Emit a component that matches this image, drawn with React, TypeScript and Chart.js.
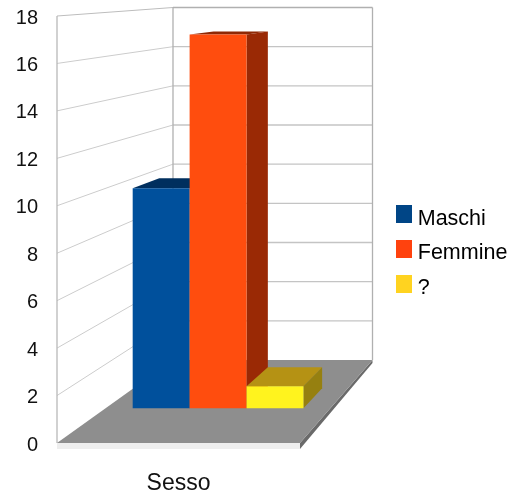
import React, { useEffect, useRef } from "react";
import { Chart, registerables } from "chart.js";

Chart.register(...registerables);

const categories = ["Sesso"];
const seriesNames = ["Maschi", "Femmine", "?"];
const maschi = [10];
const femmine = [17];
const ignoto = [1];
const legendColors = ["#004586", "#ff420e", "#ffd320"];
const frontColors = ["#00509c", "#ff4d0e", "#fff31e"];
const topColors = ["#002f5e", "#8f2805", "#b59214"];
const sideColors = ["#003a70", "#9a2905", "#968010"];

const Y_MAX = 18;
const FONT = "'Liberation Sans', Arial, sans-serif";
// Far wall of the box, in page pixels; the near plane is the chart area.
const BACK = { left: 173, right: 372.5, top: 7.5, bottom: 360 };
const BAR_NEAR = 0.42;
const BAR_FAR = 0.66;
const SWATCH = { x: 396, y: 205, w: 16, h: 18, step: 35 };

function lerp(a: number, b: number, t: number) {
  return a + (b - a) * t;
}

function projector(chart: any) {
  const { chartArea, scales } = chart;
  return (frac: number, value: number, depth: number): [number, number] => {
    const fx = chartArea.left + frac * (chartArea.right - chartArea.left);
    const fy = scales.y.getPixelForValue(value);
    const bx = lerp(BACK.left, BACK.right, frac);
    const by = BACK.bottom - (value / Y_MAX) * (BACK.bottom - BACK.top);
    return [lerp(fx, bx, depth), lerp(fy, by, depth)];
  };
}

function poly(ctx: CanvasRenderingContext2D, pts: [number, number][], fill: string) {
  ctx.beginPath();
  pts.forEach((p, i) => (i ? ctx.lineTo(p[0], p[1]) : ctx.moveTo(p[0], p[1])));
  ctx.closePath();
  ctx.fillStyle = fill;
  ctx.fill();
}

function line(ctx: CanvasRenderingContext2D, a: [number, number], b: [number, number], color: string, width: number) {
  ctx.beginPath();
  ctx.moveTo(a[0], a[1]);
  ctx.lineTo(b[0], b[1]);
  ctx.strokeStyle = color;
  ctx.lineWidth = width;
  ctx.stroke();
}

const box3d = {
  id: "box3d",
  afterLayout(chart: any) {
    const legend = chart.legend;
    legend.left = 386;
    legend.right = 531;
    legend.top = 195;
    legend.bottom = 496;
  },
  beforeDatasetsDraw(chart: any) {
    const ctx: CanvasRenderingContext2D = chart.ctx;
    const p = projector(chart);
    ctx.save();
    const ticks = chart.scales.y.ticks;
    // walls and gridlines
    ticks.forEach((t: any) => {
      if (t.value === 0) return;
      const edge = t.value === Y_MAX;
      line(ctx, p(0, t.value, 0), p(0, t.value, 1), edge ? "#bdbdbd" : "#cccccc", 1);
      line(ctx, p(0, t.value, 1), p(1, t.value, 1), edge ? "#b0b0b0" : "#c4c4c4", 1.3);
    });
    line(ctx, p(0, 0, 0), p(0, Y_MAX, 0), "#b8b8b8", 1.3);
    line(ctx, p(0, 0, 1), p(0, Y_MAX, 1), "#b0b0b0", 1.3);
    line(ctx, p(1, 0, 1), p(1, Y_MAX, 1), "#b0b0b0", 1.3);
    // floor slab
    const slab = 6;
    const a = p(0, 0, 0);
    const b = p(1, 0, 0);
    const c = p(1, 0, 1);
    const d = p(0, 0, 1);
    poly(ctx, [a, b, [b[0], b[1] + slab], [a[0], a[1] + slab]], "#eeeeee");
    poly(ctx, [b, c, [c[0], c[1] + 3], [b[0], b[1] + slab]], "#6a6a6a");
    poly(ctx, [a, b, c, d], "#8e8e8e");
    ctx.restore();
  },
  beforeDatasetDraw() {
    return false;
  },
  afterDatasetsDraw(chart: any) {
    const ctx: CanvasRenderingContext2D = chart.ctx;
    const p = projector(chart);
    const { left, right } = chart.chartArea;
    ctx.save();
    chart.data.datasets.forEach((ds: any, i: number) => {
      chart.getDatasetMeta(i).data.forEach((el: any, j: number) => {
        const f0 = (el.x - el.width / 2 - left) / (right - left);
        const f1 = (el.x + el.width / 2 - left) / (right - left);
        const v = ds.data[j];
        poly(ctx, [p(f0, v, BAR_NEAR), p(f1, v, BAR_NEAR), p(f1, v, BAR_FAR), p(f0, v, BAR_FAR)], topColors[i]);
        poly(ctx, [p(f1, 0, BAR_NEAR), p(f1, v, BAR_NEAR), p(f1, v, BAR_FAR), p(f1, 0, BAR_FAR)], sideColors[i]);
        poly(ctx, [p(f0, 0, BAR_NEAR), p(f1, 0, BAR_NEAR), p(f1, v, BAR_NEAR), p(f0, v, BAR_NEAR)], frontColors[i]);
      });
    });
    // legend swatches sit higher than the label centres in the reference
    seriesNames.forEach((_, i) => {
      ctx.fillStyle = legendColors[i];
      ctx.fillRect(SWATCH.x, SWATCH.y + i * SWATCH.step, SWATCH.w, SWATCH.h);
    });
    ctx.restore();
  },
};

export default function App() {
  const ref = useRef<HTMLCanvasElement>(null);
  useEffect(() => {
    const chart = new Chart(ref.current as HTMLCanvasElement, {
      type: "bar",
      data: {
        labels: categories,
        datasets: [maschi, femmine, ignoto].map((data, i) => ({
          label: seriesNames[i],
          data,
          backgroundColor: legendColors[i],
        })),
      },
      plugins: [box3d],
      options: {
        animation: false,
        responsive: false,
        events: [],
        layout: { padding: { left: 0, top: 16, right: 231, bottom: 0 } },
        datasets: { bar: { categoryPercentage: 0.76, barPercentage: 1 } },
        scales: {
          x: {
            grid: { display: false, drawTicks: false },
            border: { display: false },
            ticks: { color: "#111", padding: 27, font: { family: FONT, size: 23 } },
            afterFit(s: any) {
              s.height = 53;
              s.paddingLeft = 0;
              s.paddingRight = 0;
            },
          },
          y: {
            min: 0,
            max: Y_MAX,
            grid: { display: false, drawTicks: false },
            border: { display: false },
            ticks: { stepSize: 2, color: "#111", padding: 19, labelOffset: 2, font: { family: FONT, size: 20 } },
            afterFit(s: any) {
              s.width = 57;
              s.paddingTop = 0;
              s.paddingBottom = 0;
            },
          },
        },
        plugins: {
          tooltip: { enabled: false },
          legend: {
            position: "chartArea",
            align: "start",
            labels: {
              boxWidth: 8,
              boxHeight: 10,
              padding: 13,
              color: "#111",
              font: { family: FONT, size: 21.5 },
              generateLabels: () =>
                seriesNames.map((text, i) => ({
                  text,
                  fillStyle: "rgba(0,0,0,0)",
                  strokeStyle: "rgba(0,0,0,0)",
                  lineWidth: 0,
                  datasetIndex: i,
                })),
            },
          },
        },
      } as any,
    });
    return () => chart.destroy();
  }, []);
  return (
    <canvas
      ref={ref}
      width={531}
      height={496}
      style={{ position: "absolute", left: 0, top: 0, display: "block" }}
    />
  );
}
